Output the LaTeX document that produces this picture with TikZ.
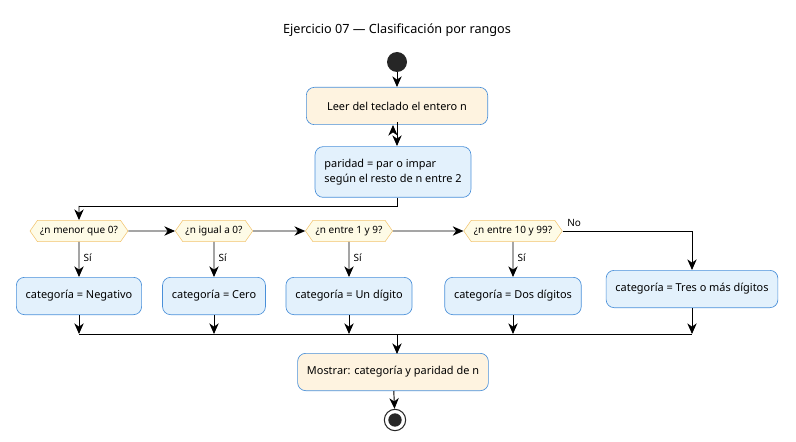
\documentclass[tikz,border=0pt]{standalone}
\usepackage{fontspec}
\setmainfont{Noto Sans}
\usetikzlibrary{arrows.meta,shapes.symbols}
\definecolor{bl}{HTML}{E3F1FC}
\definecolor{bls}{HTML}{4A90D9}
\definecolor{be}{HTML}{FEF3E0}
\definecolor{dy}{HTML}{FEFBE6}
\definecolor{dys}{HTML}{F2C46E}
\begin{document}
\begin{tikzpicture}[x=0.75pt,y=-0.75pt,font=\fontsize{8.2}{11}\selectfont,
 act/.style={draw=bls,rounded corners=6pt,minimum height=28pt,inner xsep=7pt,line width=0.5pt},
 blue/.style={act,fill=bl},
 beige/.style={act,fill=be},
 dec/.style={draw=dys,fill=dy,signal,signal to=west and east,signal pointer angle=110,minimum height=16pt,inner xsep=2pt,font=\fontsize{7.5}{9}\selectfont},
 arr/.style={-{Stealth[length=8pt,width=7pt,inset=2.5pt]},line width=0.7pt},
 ln/.style={line width=0.7pt},
 lbl/.style={font=\fontsize{7.5}{9}\selectfont,anchor=west}]
\useasboundingbox (0,0) rectangle (796,442);
\node[font=\bfseries\fontsize{9.5}{11}\selectfont] (t) at (397,30) {Ejercicio 07 — Clasificación por rangos};
\node[circle,fill=black!85,minimum size=15pt,inner sep=0] (s) at (397,62) {};
\node[beige,minimum width=136pt] (r) at (397,106) {Leer del teclado el entero n};
\node[blue,align=left,minimum height=38pt] (p) at (393,172) {paridad = par o impar\\según el resto de n entre 2};
\node[dec] (d1) at (79,231) {¿n menor que 0?};
\node[dec] (d2) at (214,231) {¿n igual a 0?};
\node[dec] (d3) at (349,231) {¿n entre 1 y 9?};
\node[dec] (d4) at (513,231) {¿n entre 10 y 99?};
\node[blue] (b1) at (79,296) {categoría = Negativo};
\node[blue] (b2) at (214,296) {categoría = Cero};
\node[blue] (b3) at (349,296) {categoría = Un dígito};
\node[blue] (b4) at (513,296) {categoría = Dos dígitos};
\node[blue] (b5) at (692,289) {categoría = Tres o más dígitos};
\node[beige] (m) at (393,372) {Mostrar: categoría y paridad de n};
\node[circle,draw=black!85,line width=0.8pt,minimum size=16pt,inner sep=0] (e) at (395,420) {};
\node[circle,fill=black!85,minimum size=10pt,inner sep=0] at (e) {};
\coordinate (j1) at (397,206);
\coordinate (j2) at (79,206);
\coordinate (k) at (692,231);
\coordinate (ja) at (79,334);\coordinate (jb) at (692,334);\coordinate (jc) at (397,334);
\draw[arr] (s) -- (r);
\draw[arr] (r) -- (p.south |- r.south) ++(0,0);
\draw[arr] (397,122) -- (397,146);
\draw[ln] (397,198) -- (j1) -- (j2);
\draw[arr] (j2) -- (d1);
\draw[arr] (d1) -- (d2);\draw[arr] (d2) -- (d3);\draw[arr] (d3) -- (d4);
\draw[ln] (d4.east) -- (k);
\draw[arr] (k) -- (b5);
\node[lbl,anchor=south west] at (d4.east) {No};
\foreach \d/\b in {d1/b1,d2/b2,d3/b3,d4/b4}{
 \draw[arr] (\d) -- (\b);
 \node[lbl] at ([yshift=-12pt]\d.south) {Sí};
 \draw[arr] (\b) -- (\b |- ja);}
\draw[arr] (b5) -- (b5 |- ja);
\draw[ln] (ja) -- (jb);
\draw[arr] (jc) -- (397,354);
\draw[arr] (m) -- (e);
\end{tikzpicture}
\end{document}
